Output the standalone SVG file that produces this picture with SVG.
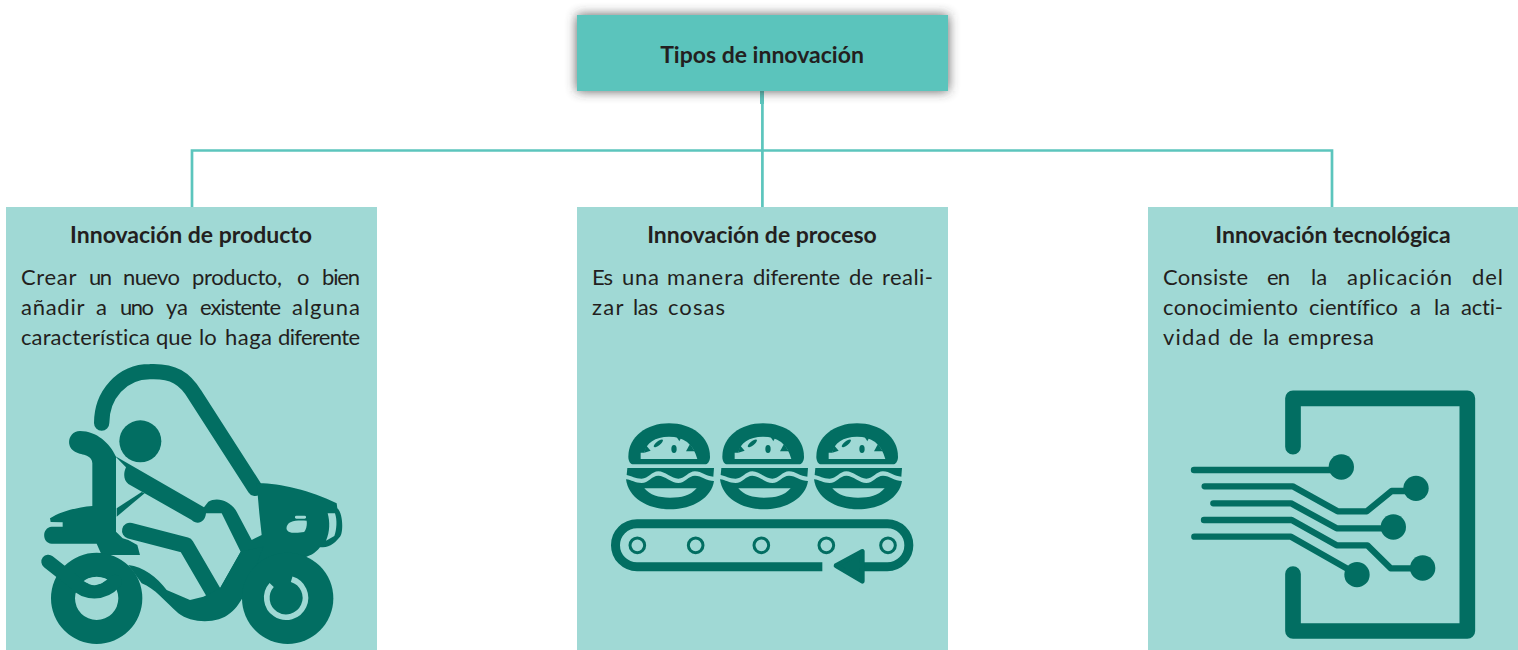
<svg xmlns="http://www.w3.org/2000/svg" width="1518" height="650" viewBox="0 0 1518 650">
<style>
.bx{fill:#a0d9d5}
.d{fill:#026e62}
.l{fill:#a0d9d5}
.s{fill:none;stroke:#026e62;stroke-linejoin:round;stroke-linecap:round}
.c{fill:none;stroke:#5cc5bd;stroke-width:2.7}
text{font-family:"Lato","Liberation Sans",sans-serif;fill:#231f20;font-variant-ligatures:none}
.h{font-size:23px;font-weight:700;text-anchor:middle}
.t{font-size:22px}
</style>
<defs>
<filter id="sh" x="-15%" y="-50%" width="130%" height="200%"><feGaussianBlur stdDeviation="6"/></filter>
<g id="burger">
<path class="d" d="M85,140C85,80 140,40 207,40C275,40 330,80 330,140C330,155 322,163 315,163L100,163C92,163 85,155 85,140Z"/>
<path class="l" d="M122,147L122,128L133,128C138,100 165,80 207,80C250,80 280,100 292,147Z"/>
<ellipse class="d" cx="175" cy="100" rx="17" ry="6" transform="rotate(-38 175 100)"/>
<ellipse class="d" cx="222" cy="117" rx="8" ry="12"/>
<path class="d" d="M258,124L270,102L284,124Z"/>
<path class="d" d="M228,78L246,78L238,94Z"/>
<path class="d" d="M133,128L152,122L138,106Z"/>
<path class="d" d="M82,174L342,174L340,200C320,200 305,184 285,184C265,184 255,206 235,206C215,206 195,184 175,184C155,184 145,206 125,206C105,206 95,198 80,195Z"/>
<path class="d" d="M78,208C95,210 105,219 125,219C145,219 155,197 175,197C195,197 215,219 235,219C255,219 265,197 285,197C305,197 320,213 342,213C335,262 280,298 210,298C140,298 85,262 78,208Z"/>
<path class="l" d="M133,235L290,235C270,258 245,263 210,263C175,263 150,255 133,235Z"/>
</g>
</defs>
<g id="connectors">
<path class="c" d="M762.4,91V207M192,207V150.5H1332V207"/>
<rect x="760" y="91" width="4" height="13" fill="#5cc5bd"/>
</g>
<g id="root">
<rect x="577" y="15" width="371" height="76" fill="#333" opacity=".8" filter="url(#sh)"/>
<rect x="577" y="15" width="371" height="76" fill="#5bc4bc"/>
<text class="h" x="762" y="63">Tipos de innovación</text>
</g>
<g id="producto">
<rect class="bx" x="6" y="207" width="371" height="443"/>
<text class="h" x="191" y="243">Innovación de producto</text>
<text class="t" y="285"><tspan x="21" textLength="55">Crear</tspan> <tspan x="89" textLength="23">un</tspan> <tspan x="123" textLength="57">nuevo</tspan> <tspan x="192" textLength="90">producto,</tspan> <tspan x="297">o</tspan> <tspan x="322" textLength="38">bien</tspan></text>
<text class="t" y="315"><tspan x="21" textLength="63">añadir</tspan> <tspan x="96">a</tspan> <tspan x="120" textLength="34">uno</tspan> <tspan x="166" textLength="22">ya</tspan> <tspan x="200" textLength="81">existente</tspan> <tspan x="292" textLength="68">alguna</tspan></text>
<text class="t" y="345"><tspan x="21" textLength="129">característica</tspan> <tspan x="156" textLength="36">que</tspan> <tspan x="199">lo</tspan> <tspan x="225" textLength="47">haga</tspan> <tspan x="278" textLength="82">diferente</tspan></text>
<g id="moto" transform="translate(0 350) scale(.33333)">
<path class="s" stroke-width="46" d="M305,219C305,135 365,65 450,65C520,62 555,85 585,135L765,415"/>
<circle class="d" cx="421" cy="274" r="63"/>
<path class="d" d="M240,243C205,243 195,290 225,305C240,315 277,312 277,340L277,468C230,472 180,485 150,505L152,516L188,517L188,530L155,530C125,532 125,580 155,581L290,581L305,615L420,615L412,585L385,570L368,565L348,545L348,320C330,280 290,243 240,243Z"/>
<path class="d" d="M345,318L612,472L625,455C650,440 690,450 710,485L755,570L785,555L778,490L770,400C830,398 930,420 1010,460L1012,475C1030,490 1030,550 1020,560C1000,585 985,592 960,592C945,610 930,620 900,625L730,730L660,715L722,605L665,490L618,490C615,520 590,525 575,510L385,402C370,390 370,370 378,352Z"/>
<path class="d" d="M350,475L425,426L434,430L350,500Z"/>
<path class="s" stroke-width="48" d="M390,542L558,586L645,735"/>
<path class="d" d="M385,645C430,650 470,680 500,720L570,750L610,740L660,715L722,605L790,590L740,720C725,750 710,775 690,790C655,822 575,822 535,790C495,755 465,715 425,700Z"/>
<path class="d" fill-rule="evenodd" d="M153,745a137,137 0 1 0 274,0a137,137 0 1 0 -274,0ZM225,745a65,65 0 1 0 130,0a65,65 0 1 0 -130,0Z"/>
<path class="s" stroke-width="42" d="M145,635L225,698C255,732 310,735 345,695"/>
<path class="l" d="M255,692C275,678 300,680 318,688C305,705 275,715 255,692Z"/>
<circle class="d" cx="863" cy="745" r="137"/>
<path fill="none" stroke="#a0d9d5" stroke-width="17" d="M815,705A58,58 0 1 0 875,688"/>
<path class="l" d="M983,490L1005,490C1012,510 1010,540 1003,558L978,572C990,545 990,515 983,490Z"/>
<rect class="l" x="885" y="497" width="33" height="9" rx="4"/>
<path class="l" d="M860,530C865,515 880,510 920,512C922,525 918,540 912,546C890,550 855,552 860,530Z"/>
</g>
</g>
<g id="proceso">
<rect class="bx" x="577" y="207" width="371" height="443"/>
<text class="h" x="762" y="243">Innovación de proceso</text>
<text class="t" y="285"><tspan x="592" textLength="21">Es</tspan> <tspan x="622" textLength="37">una</tspan> <tspan x="667" textLength="77">manera</tspan> <tspan x="753" textLength="87">diferente</tspan> <tspan x="849" textLength="24">de</tspan> <tspan x="882" textLength="51">reali-</tspan></text>
<text class="t" y="315"><tspan x="592" textLength="31">zar</tspan> <tspan x="633" textLength="25">las</tspan> <tspan x="668" textLength="57">cosas</tspan></text>
<g id="cinta" transform="translate(600 410) scale(.33333)">
<use href="#burger"/>
<use href="#burger" x="282"/>
<use href="#burger" x="564"/>
<path class="s" stroke-width="27" d="M667,470L111,470A64.5,64.5 0 0 1 111,341L862,341A64.5,64.5 0 0 1 862,470L780,470" style="stroke-linecap:butt"/>
<path class="d" stroke="#026e62" stroke-width="14" stroke-linejoin="round" d="M708,467L787,424V514Z"/>
<g fill="none" stroke="#026e62" stroke-width="9">
<circle cx="112" cy="406" r="22"/><circle cx="287" cy="406" r="22"/><circle cx="484" cy="406" r="22"/><circle cx="679" cy="406" r="22"/><circle cx="864" cy="406" r="22"/>
</g>
</g>
</g>
<g id="tecnologica">
<rect class="bx" x="1148" y="207" width="370" height="443"/>
<text class="h" x="1333" y="243">Innovación tecnológica</text>
<text class="t" y="285"><tspan x="1163" textLength="85">Consiste</tspan> <tspan x="1267" textLength="23">en</tspan> <tspan x="1311">la</tspan> <tspan x="1347" textLength="105">aplicación</tspan> <tspan x="1472" textLength="31">del</tspan></text>
<text class="t" y="315"><tspan x="1163" textLength="135">conocimiento</tspan> <tspan x="1309" textLength="89">científico</tspan> <tspan x="1410">a</tspan> <tspan x="1434">la</tspan> <tspan x="1461" textLength="42">acti-</tspan></text>
<text class="t" y="345"><tspan x="1163" textLength="57">vidad</tspan> <tspan x="1229" textLength="24">de</tspan> <tspan x="1263">la</tspan> <tspan x="1288" textLength="86">empresa</tspan></text>
<g id="chip" transform="translate(1170 380) scale(.33333)">
<path class="s" stroke-width="47" d="M369,200L369,55L892,55L892,753L369,753L369,582"/>
<g class="s" stroke-width="19">
<path d="M72,270L514,270"/>
<path d="M104,319L368,319L503,394L590,394L665,333L738,333"/>
<path d="M130,370L363,370L500,445L670,445"/>
<path d="M102,420L365,420L500,496L592,496L662,565L758,565"/>
<path d="M73,470L363,470L561,583"/>
</g>
<circle class="d" cx="514" cy="261" r="38"/><circle class="d" cx="738" cy="325" r="38"/><circle class="d" cx="670" cy="441" r="38"/><circle class="d" cx="758" cy="564" r="38"/><circle class="d" cx="561" cy="584" r="38"/>
</g>
</g>
</svg>
